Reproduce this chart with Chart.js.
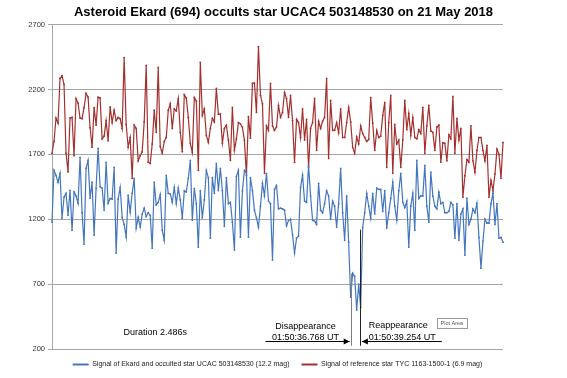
<!DOCTYPE html>
<html>
<head>
<meta charset="utf-8">
<script src="https://cdn.jsdelivr.net/npm/chart.js@4.4.1/dist/chart.umd.min.js"></script>
<style>
html,body{margin:0;padding:0;background:#fff;}
#wrap{width:567px;height:378px;position:relative;}
</style>
</head>
<body>
<div id="wrap"><canvas id="c" width="567" height="378"></canvas></div>
<script>
const chartTitle = 'Asteroid Ekard (694) occults star UCAC4 503148530 on 21 May 2018';
const seriesNames = [
  'Signal of Ekard and occulted star UCAC 503148530 (12.2 mag)',
  'Signal of reference star TYC 1163-1500-1 (6.9 mag)'
];
const yTicks = [200, 700, 1200, 1700, 2200, 2700];

const occultedSignal = [
1177,1577,1538,1485,1554,1208,1370,1400,1231,1423,
1115,1410,1380,1323,1677,1250,1008,1592,1654,1362,
1485,1077,1440,1746,1450,1440,1269,1638,1323,1360,
1355,1600,939,1355,1446,1215,1160,1062,1385,1254,
1400,1515,1131,1215,1140,1240,1285,1220,1250,1230,
977,1485,1310,1330,1390,1115,1038,1538,1400,1395,
1330,1446,1320,1440,1350,1208,1420,1410,1515,1654,
1192,1438,1320,985,1420,1210,1350,1577,1520,1054,
1520,1400,1631,1420,1592,1420,1146,1520,1320,1330,
1177,962,1530,1577,1062,1420,1577,1560,1062,1520,
1420,1270,1210,1138,1300,1477,1380,1554,1340,1320,
885,1430,1460,1280,1285,1280,1270,1150,1190,1200,
1080,939,1054,1070,1446,1540,1340,1330,1615,1380,
1192,1185,1160,1477,1270,1250,1320,1420,1380,1200,
1340,1300,1138,1320,1592,1250,1038,1380,1023,600,
785,760,500,700,520,1138,1250,1400,1300,1208,
1400,1240,1440,1430,1430,1260,1420,1131,1250,1360,
1485,1300,1192,1420,1554,1330,1290,1340,985,1300,
1400,1115,1654,1360,1380,1380,1615,1300,1177,1562,
1380,1300,1280,1408,1320,1330,1250,1250,1260,1330,
1310,1054,1320,1038,1240,1280,923,1362,1160,1200,
1280,1250,1323,1060,823,1030,1200,1170,1170,1320,
1400,1160,1320,1054,1060,1023
];

const referenceSignal = [
1708,1800,1980,1940,2285,2305,2240,1710,1565,1980,
1985,1690,2130,2095,1980,1975,2060,2170,2140,1905,
1755,2060,1925,2140,2135,1820,1840,1960,1805,2065,
1945,2040,1960,1985,1975,1900,2446,1930,1755,1830,
1515,1925,1900,1650,1690,1720,1950,2385,1640,1630,
1780,2040,1870,2370,1760,1710,1800,1830,2040,2090,
1900,2050,2035,2130,1870,1720,2160,2135,1985,1785,
1715,2138,2110,1577,2408,2000,2050,1846,1792,1900,
1977,1950,2208,2010,2010,1785,1900,1925,1810,1654,
2062,1731,1820,1945,1935,1910,1808,1538,1990,1825,
2246,2250,2023,2531,2154,2090,1554,1920,1885,2246,
1920,1885,1910,2077,1985,2023,2177,2130,1985,2154,
1960,1638,1970,1945,1830,2050,1810,1970,1600,1900,
1945,2131,1731,1955,1900,1955,1985,2285,1669,2115,
1885,1885,1945,1865,2050,1830,1830,1945,2062,1950,
1754,1708,1835,1780,1920,1860,1830,1800,1815,2138,
1940,1731,1885,1830,1840,2000,2100,1600,1945,2154,
1554,1930,1780,1810,1600,1810,2115,1890,2015,1845,
1985,1830,1820,1890,1860,2062,1708,1920,2077,1880,
1870,1731,1910,1925,1640,1790,1785,1650,1850,1820,
2146,1708,1977,1810,1900,1369,1535,1660,1640,1920,
1650,1562,1730,1830,1830,1731,1650,1770,1369,1500,
1420,1550,1740,1700,1515,1792
];

const samples = occultedSignal.map((_, i) => i + 1);

const disappearanceLabel = ['Disappearance', '01:50:36.768 UT'];
const reappearanceLabel = ['Reappearance', '01:50:39.254 UT'];
const durationLabel = 'Duration 2.486s';

const annotate = {
  id: 'annotate',
  afterDatasetsDraw(chart) {
    const ctx = chart.ctx;
    const xs = chart.scales.x, ys = chart.scales.y;
    const X = i => xs.getPixelForValue(i);
    const Y = v => ys.getPixelForValue(v);
    ctx.save();
    const xd = X(149), xr = X(153.6);
    ctx.lineWidth = 1;
    ctx.strokeStyle = '#7f7f7f';
    ctx.beginPath(); ctx.moveTo(Math.round(xd)+0.5, Y(780)); ctx.lineTo(Math.round(xd)+0.5, Y(225)); ctx.stroke();
    ctx.strokeStyle = '#222';
    ctx.beginPath(); ctx.moveTo(Math.round(xr)+0.5, Y(1120)); ctx.lineTo(Math.round(xr)+0.5, Y(225)); ctx.stroke();
    const ay = Math.round(Y(262)) + 0.5;
    ctx.strokeStyle = '#000'; ctx.fillStyle = '#000';
    ctx.beginPath(); ctx.moveTo(X(106.5), ay); ctx.lineTo(xd - 1, ay); ctx.stroke();
    ctx.beginPath(); ctx.moveTo(xd - 1, ay); ctx.lineTo(xd - 7, ay - 3); ctx.lineTo(xd - 7, ay + 3); ctx.closePath(); ctx.fill();
    ctx.beginPath(); ctx.moveTo(xr + 2, ay); ctx.lineTo(X(194.5), ay); ctx.stroke();
    ctx.beginPath(); ctx.moveTo(xr + 2, ay); ctx.lineTo(xr + 8, ay - 3); ctx.lineTo(xr + 8, ay + 3); ctx.closePath(); ctx.fill();
    ctx.font = '9px "Liberation Sans", Arial, sans-serif';
    ctx.fillStyle = '#000';
    ctx.textBaseline = 'middle';
    ctx.textAlign = 'center';
    ctx.fillText(durationLabel, X(51.5), Y(330));
    ctx.fillText(disappearanceLabel[0], X(126.5), Y(370));
    ctx.fillText(disappearanceLabel[1], X(126.5), Y(285));
    ctx.textAlign = 'left';
    ctx.fillText(reappearanceLabel[0], X(158), Y(380));
    ctx.fillText(reappearanceLabel[1], X(158), Y(292));
    const bx = X(192), by = Y(440);
    ctx.fillStyle = '#d8d8d8';
    ctx.fillRect(bx + 1, by + 1, 30, 10);
    ctx.fillStyle = '#fff';
    ctx.fillRect(bx, by, 30, 10);
    ctx.strokeStyle = '#9a9a9a';
    ctx.strokeRect(Math.round(bx) + 0.5, Math.round(by) + 0.5, 30, 10);
    ctx.fillStyle = '#555';
    ctx.font = '5.5px "Liberation Sans", Arial, sans-serif';
    ctx.textAlign = 'center';
    ctx.fillText('Plot Area', bx + 15, by + 5.5);
    ctx.restore();
  }
};

new Chart(document.getElementById('c'), {
  type: 'line',
  data: {
    labels: samples,
    datasets: [
      {
        label: seriesNames[0],
        data: occultedSignal,
        borderColor: '#4476bd',
        backgroundColor: '#4476bd',
        borderWidth: 1.2,
        pointRadius: 0.9,
        pointBorderWidth: 0,
        pointBackgroundColor: '#4476bd',
        tension: 0
      },
      {
        label: seriesNames[1],
        data: referenceSignal,
        borderColor: '#a3302e',
        backgroundColor: '#a3302e',
        borderWidth: 1.2,
        pointRadius: 0.9,
        pointBorderWidth: 0,
        pointBackgroundColor: '#a3302e',
        tension: 0
      }
    ]
  },
  options: {
    responsive: false,
    animation: false,
    devicePixelRatio: 1,
    layout: { padding: { left: 0, right: 0, top: 0, bottom: 0 } },
    plugins: {
      title: {
        display: true,
        text: chartTitle,
        color: '#000',
        font: { family: '"Liberation Sans", Arial, sans-serif', size: 13, weight: 'bold' },
        padding: { top: 5, bottom: 4 }
      },
      legend: {
        position: 'bottom',
        fullSize: false,
        labels: {
          color: '#222',
          font: { family: '"Liberation Sans", Arial, sans-serif', size: 7 },
          boxWidth: 16,
          boxHeight: 2,
          padding: 12,
          generateLabels(chart) {
            const items = Chart.defaults.plugins.legend.labels.generateLabels(chart);
            items.forEach(it => {
              const ds = chart.data.datasets[it.datasetIndex];
              it.fillStyle = ds.borderColor;
              it.strokeStyle = ds.borderColor;
              it.lineWidth = 0;
            });
            return items;
          }
        }
      },
      tooltip: { enabled: false }
    },
    scales: {
      x: {
        type: 'category',
        display: false,
        offset: false
      },
      y: {
        type: 'linear',
        min: 200,
        max: 2700,
        afterBuildTicks: s => { s.ticks = yTicks.map(v => ({ value: v })); },
        afterFit: s => { s.width = 52; },
        ticks: {
          color: '#333',
          font: { family: '"Liberation Sans", Arial, sans-serif', size: 7.5 },
          padding: 3,
          callback: v => String(v)
        },
        grid: { color: '#a6a6a6', lineWidth: 1, tickLength: 4, tickColor: '#a6a6a6' },
        border: { color: '#a6a6a6' }
      },
      yRight: {
        type: 'linear',
        position: 'right',
        display: true,
        ticks: { display: false },
        grid: { display: false, drawTicks: false },
        border: { display: false },
        afterFit: s => { s.width = 64; }
      }
    }
  },
  plugins: [annotate]
});
</script>
</body>
</html>
